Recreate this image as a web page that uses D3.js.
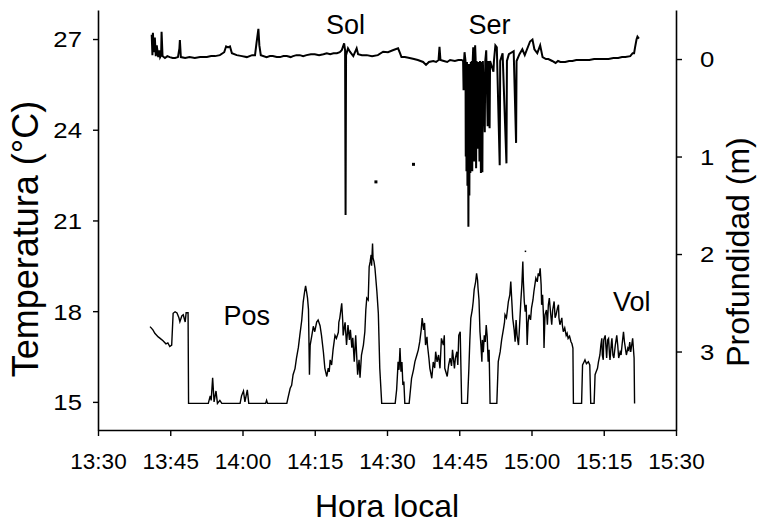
<!DOCTYPE html>
<html>
<head>
<meta charset="utf-8">
<script src="https://cdn.jsdelivr.net/npm/d3@7"></script>
<style>
  html, body { margin: 0; padding: 0; background: #fff; }
  svg { display: block; }
  text { font-family: "Liberation Sans", Arial, sans-serif; fill: #000; }
</style>
</head>
<body>
<svg id="chart" width="766" height="523"></svg>
<script>
// Time is given in minutes after 13:30 (hora local)
const xTickMinutes = [0, 15, 30, 45, 60, 75, 90, 105, 120];
const xTickLabels = ["13:30", "13:45", "14:00", "14:15", "14:30", "14:45", "15:00", "15:15", "15:30"];
const tempTicks = [15, 18, 21, 24, 27];
const depthTicks = [0, 1, 2, 3];

// Water temperature (°C) logged along the dive
const tempMinutes = [
  10.8, 11.4, 11.8, 12.5, 12.9, 13.5, 14.1, 14.5, 14.9, 15.3, 15.6, 16.0, 16.4, 16.8, 17.0, 17.4, 17.7, 18.1, 18.3, 18.7, 18.8,
  22.9, 23.3, 23.5, 23.8, 24.1, 24.5, 24.8, 25.3, 25.7, 29.5, 29.8, 30.2, 30.5, 31.0, 31.3, 34.8, 35.0, 35.2, 39.2,
  39.4, 39.9, 40.2, 40.5, 40.9, 41.2, 41.6, 41.9, 42.3, 42.6, 42.9, 43.1, 43.3, 43.5, 43.7, 43.9, 44.05, 44.4, 44.7,
  45.0, 45.4, 45.7, 46.1, 46.4, 46.8, 47.1, 47.5, 47.8, 48.0, 48.2, 48.5, 48.8, 49.2, 49.5, 49.9, 50.0, 50.2, 50.6,
  50.8, 50.9, 51.2, 51.3, 51.6, 51.9, 52.2, 52.4, 52.7, 52.9, 53.2, 53.5, 53.9, 54.2, 54.4, 54.7, 55.1, 55.4, 55.6,
  55.8, 56.1, 56.3, 56.5, 56.7, 56.8, 57.0, 57.1, 57.3, 57.5, 57.9, 58.2, 58.5, 58.9,
  61.7, 62.0, 62.2, 62.3, 62.5, 62.7, 62.9, 63.1, 63.3, 63.5, 63.7,
  64.6, 65.1, 65.5, 65.8, 66.2, 66.5, 66.8, 67.1, 67.3, 67.6, 67.8, 68.0, 68.3, 68.4, 68.7, 68.9, 69.3, 69.6, 69.9,
  70.1, 70.4, 70.7, 71.0, 71.3, 71.7, 71.9, 72.0, 72.5, 72.8, 73.1, 73.4, 73.6, 74.0, 74.2, 74.5, 74.7, 74.9, 75.2, 75.5,
  76.7, 77.0, 77.2, 77.4, 77.7, 77.9, 78.1, 78.4, 78.6, 78.8, 78.9, 79.1, 79.3, 79.5, 79.7, 79.8, 80.0, 80.2, 80.4,
  80.6, 80.8, 81.0, 81.2, 81.4,
  82.8, 83.1, 83.5, 83.8, 84.2, 84.4, 84.5, 84.8, 85.0, 85.2, 85.5, 85.7, 85.9, 86.1, 86.4, 86.6, 86.8, 87.0, 87.3,
  87.5, 87.6, 87.8, 88.0, 88.2, 88.3, 88.5, 88.7, 88.9, 89.1, 89.3, 89.5, 89.8, 90.0, 90.3, 90.5, 90.7, 90.9, 91.2,
  91.4, 91.6, 91.8, 92.0, 92.1, 92.3, 92.5, 92.6, 92.8, 93.1, 93.3, 93.5, 93.7, 94.0, 94.2, 94.4, 94.7, 94.9, 95.1,
  95.4, 95.6, 95.7, 95.9, 96.3, 96.4, 96.6, 96.9, 97.2, 97.4, 97.6, 97.9, 98.2, 98.4, 98.6, 98.7,
  100.4, 100.6, 100.9, 101.1, 101.4, 101.8, 102.1, 102.3,
  103.0, 103.2, 103.4, 103.7, 103.9, 104.2, 104.4, 104.6, 104.7, 104.9, 105.0, 105.3, 105.5, 105.6, 105.8, 106.0,
  106.2, 106.3, 106.6, 106.7, 106.9, 107.1, 107.4, 107.7, 107.9, 108.1, 108.4, 108.6, 108.8, 109.1, 109.3, 109.4,
  109.6, 109.7, 110.0, 110.2, 110.4, 110.6, 111.0, 111.3, 111.4
];
const tempValues = [
  17.49, 17.38, 17.27, 17.15, 17.10, 17.02, 16.92, 16.95, 16.83, 16.88, 17.93, 17.98, 17.94, 17.78, 17.65, 17.84, 17.88, 17.64, 17.95, 17.95, 14.95,
  14.95, 15.20, 15.05, 15.80, 15.00, 15.36, 14.95, 15.05, 14.95, 14.95, 15.20, 15.36, 15.00, 15.40, 14.95, 14.95, 15.05, 14.95, 14.95,
  15.10, 15.45, 15.55, 15.90, 16.10, 16.44, 16.80, 17.20, 17.70, 18.30, 18.65, 18.84, 18.65, 18.43, 18.05, 15.90, 16.88, 17.20, 17.50,
  17.32, 17.64, 17.71, 17.52, 17.20, 16.64, 16.11, 15.84, 16.12, 15.99, 16.39, 16.22, 16.72, 17.20, 17.10, 17.30, 17.63, 17.77, 18.26,
  17.71, 17.20, 17.54, 17.63, 16.88, 17.54, 17.05, 17.38, 16.79, 17.12, 16.33, 17.20, 15.90, 16.39, 15.80, 16.55, 16.88, 17.32, 18.04,
  18.43, 18.37, 19.47, 19.63, 19.86, 19.50, 20.24, 19.76, 19.64, 19.42, 18.65, 17.93, 16.11, 14.95,
  14.95, 15.40, 15.99, 16.33, 16.06, 16.78, 16.00, 16.32, 15.56, 15.67, 14.95,
  14.95, 15.78, 16.06, 16.33, 16.55, 16.72, 16.99, 17.38, 17.77, 17.38, 17.61, 16.88, 17.15, 16.88, 16.45, 16.11, 15.78, 16.32, 16.12,
  16.66, 16.32, 16.55, 16.11, 17.10, 16.88, 17.20, 16.11, 15.84, 16.22, 16.45, 16.19, 16.72, 16.11, 16.45, 16.66, 16.22, 17.20, 17.32, 14.95,
  14.95, 16.11, 17.05, 17.77, 18.04, 18.32, 18.71, 18.97, 19.25, 19.03, 18.76, 18.37, 17.32, 16.88, 16.33, 17.05, 16.64, 17.20, 16.98,
  17.54, 17.17, 16.33, 16.72, 14.95,
  14.95, 16.33, 16.66, 17.05, 17.43, 17.64, 17.88, 17.78, 18.04, 18.32, 18.54, 18.98, 18.37, 17.77, 17.38, 16.99, 17.71, 17.20, 16.88,
  17.45, 17.77, 18.37, 18.87, 19.64, 19.03, 18.32, 17.98, 18.21, 16.88, 17.64, 17.88, 17.71, 18.10, 18.37, 18.65, 18.87, 19.09, 18.97,
  19.25, 19.16, 19.42, 18.87, 18.21, 18.54, 17.78, 16.78, 17.88, 18.04, 17.55, 18.21, 18.43, 17.88, 17.55, 18.04, 18.32, 17.78, 17.88,
  18.11, 18.21, 17.78, 17.55, 17.78, 17.55, 17.32, 17.45, 17.20, 17.27, 17.10, 17.17, 16.99, 16.92, 16.78, 14.95,
  14.95, 16.22, 16.32, 16.39, 16.26, 16.33, 16.22, 14.95,
  14.95, 15.90, 15.99, 16.11, 16.32, 16.55, 16.88, 17.10, 16.55, 16.39, 17.05, 17.20, 16.72, 16.45, 17.05, 17.10,
  16.55, 16.39, 16.98, 17.10, 16.55, 16.45, 16.88, 17.20, 16.88, 16.45, 16.65, 16.55, 16.88, 17.32, 16.98, 16.88,
  16.65, 16.55, 16.78, 16.72, 16.98, 16.65, 17.10, 16.45, 14.95
];

// Depth (m) of the logger over the same period
const depthMinutes = [
  11.15, 11.3, 11.4, 11.6, 11.8, 12.0, 12.2, 12.5, 12.7, 12.9, 13.1, 13.2, 13.4, 13.9, 14.4, 14.9, 15.5, 16.0, 16.6, 16.9, 17.0, 17.2,
  18.1, 19.0, 20.1, 21.2, 22.6, 23.5, 24.3, 25.3, 26.2, 26.6, 27.0, 27.4, 27.8, 28.8, 29.9, 30.9, 32.0, 32.6, 32.9, 33.3, 33.5, 33.8,
  35.0, 35.7, 36.3, 37.1, 37.8, 38.5, 39.2, 40.0, 40.5, 41.2, 41.9, 42.6, 43.3, 44.2, 45.0, 45.9, 46.8, 47.5, 48.2, 48.9,
  49.6, 50.2, 50.6, 51.1, 51.3, 51.4, 51.5, 51.9, 52.3,
  53.0, 53.7, 54.0, 54.8, 55.8, 56.9, 58.1, 59.2, 60.2, 61.2, 62.3, 62.7, 63.0, 63.7, 64.7, 65.6, 66.4, 67.5, 68.1,
  68.7, 69.6, 70.2, 70.7, 70.9, 71.1, 71.8, 72.5, 73.1, 74.1, 74.8, 75.5, 75.8, 75.9, 76.0, 76.1, 76.3, 76.35, 76.45, 76.5, 76.6,
  76.7, 76.8, 76.9, 77.0, 77.1, 77.2, 77.3, 77.4, 77.5, 77.6, 77.7, 77.8, 77.9, 78.0, 78.1, 78.2, 78.3, 78.4, 78.5,
  78.6, 78.9, 79.0, 79.2, 79.3, 79.5, 79.6, 79.8, 79.9, 80.3, 80.4, 80.6, 80.9, 81.0, 81.3, 81.4, 82.1, 82.2, 82.5,
  82.8, 83.4, 83.5, 84.0, 84.8, 84.9, 85.3, 86.3, 86.8, 86.9, 87.5, 88.1, 88.6, 89.7, 90.2, 90.6, 91.2, 91.8, 92.3,
  93.0, 93.5, 94.3, 95.0, 95.5, 96.0, 97.0, 97.8, 98.5, 99.3, 100.0, 101.0, 102.0, 103.0, 104.0, 105.0, 106.0, 107.0,
  108.0, 108.8, 109.5, 110.5, 111.0, 111.3, 111.5, 111.8, 112.0, 112.3
];
const depthValues = [
  -0.25, -0.04, -0.27, -0.07, -0.22, -0.03, -0.14, -0.02, -0.09, -0.02, -0.04, -0.28, -0.03, -0.01, -0.03, -0.02, -0.01, -0.01, -0.02, -0.11, -0.195, -0.02,
  -0.01, -0.02, -0.01, -0.02, -0.02, -0.03, -0.03, -0.04, -0.07, -0.13, -0.12, -0.13, -0.06, -0.04, -0.03, -0.02, -0.04, -0.04, -0.16, -0.31, -0.14, -0.04,
  -0.02, -0.03, -0.03, -0.02, -0.02, -0.03, -0.03, -0.02, -0.03, -0.04, -0.04, -0.03, -0.04, -0.05, -0.05, -0.04, -0.05, -0.06, -0.05, -0.06,
  -0.06, -0.07, -0.09, -0.16, -0.09, 1.60, -0.04, -0.11, -0.075,
  -0.03, -0.11, -0.05, -0.04, -0.04, -0.03, -0.04, -0.075, -0.07, -0.09, -0.11, -0.06, -0.02, -0.02, -0.01, 0.0, 0.01, 0.03, 0.06,
  0.03, 0.02, 0.03, 0.01, -0.126, 0.01, 0.02, 0.03, 0.01, 0.02, 0.01, 0.01, 0.02, 0.32, 0.02, -0.07, 0.02, 1.00, 0.05, 1.15, 0.03,
  1.30, 0.10, 1.72, 0.05, 1.40, 0.06, 1.17, 0.03, 1.10, 0.02, 1.15, 0.01, -0.12, 0.02, 1.05, 0.01, -0.14, 0.0, 1.12,
  0.02, 0.92, 0.03, 1.05, 0.02, 1.17, 0.03, 1.16, 0.02, 0.75, 0.02, -0.09, 0.69, 0.02, 0.71, 0.02, 0.13, 0.02, -0.14,
  -0.12, 1.09, 0.02, -0.06, 1.07, 0.02, -0.05, -0.08, 0.86, 0.02, -0.05, -0.10, -0.04, -0.18, -0.20, -0.10, -0.06, -0.14, -0.02,
  0.0, 0.0, 0.02, 0.04, 0.02, 0.03, 0.03, 0.02, 0.02, 0.01, 0.01, 0.01, 0.01, 0.0, 0.0, 0.0, 0.0, -0.01,
  -0.01, -0.02, -0.02, -0.03, -0.06, -0.06, -0.12, -0.20, -0.23, -0.21
];

// Isolated depth readings away from the main trace
const dotMinutes = [57.7, 65.5, 88.9];
const dotDepths = [1.26, 1.08, 1.98];

// Phase names of the dive, anchored in data coordinates
const phaseNames = ["Pos", "Sol", "Ser", "Vol"];
const phaseMinutes = [30.9, 51.4, 81.3, 110.8];
const phaseTemps = [17.55, 27.15, 27.15, 18.0];

const svg = d3.select("#chart");
const plotLeft = 98, plotRight = 676, plotTop = 10, plotBottom = 430;

const x = d3.scaleLinear().domain([0, 120]).range([plotLeft, plotRight]);
const yT = d3.scaleLinear().domain([14.07, 27.96]).range([plotBottom, plotTop]);
const yD = d3.scaleLinear().domain([3.805, -0.503]).range([plotBottom, plotTop]);

const tempData = tempMinutes.map((m, i) => [m, tempValues[i]]);
const depthData = depthMinutes.map((m, i) => [m, depthValues[i]]);

// Traces
svg.append("path")
  .datum(tempData)
  .attr("fill", "none")
  .attr("stroke", "#000")
  .attr("stroke-width", 1.4)
  .attr("d", d3.line().x(d => x(d[0])).y(d => yT(d[1])));

svg.append("path")
  .datum(depthData)
  .attr("fill", "none")
  .attr("stroke", "#000")
  .attr("stroke-width", 2)
  .attr("d", d3.line().x(d => x(d[0])).y(d => yD(d[1])));

svg.selectAll("rect.dot")
  .data(dotMinutes.map((m, i) => [m, dotDepths[i]]))
  .enter().append("rect")
  .attr("class", "dot")
  .attr("x", d => x(d[0]) - 1.5)
  .attr("y", d => yD(d[1]) - 1.5)
  .attr("width", (d, i) => i === 2 ? 1.5 : 3)
  .attr("height", (d, i) => i === 2 ? 1.5 : 3)
  .attr("fill", "#000");

// Axes
const axisLeft = d3.axisLeft(yT).tickValues(tempTicks).tickSize(5).tickSizeOuter(0);
const gl = svg.append("g").attr("transform", `translate(${plotLeft},0)`).call(axisLeft);

const axisRight = d3.axisRight(yD).tickValues(depthTicks).tickFormat(d3.format("d"))
  .tickSize(6).tickSizeOuter(0);
const gr = svg.append("g").attr("transform", `translate(${plotRight},0)`).call(axisRight);

const axisBottom = d3.axisBottom(x).tickValues(xTickMinutes)
  .tickFormat((d, i) => xTickLabels[i]).tickSize(6).tickSizeOuter(0).tickPadding(17);
const gb = svg.append("g").attr("transform", `translate(0,${plotBottom})`).call(axisBottom);

[gl, gr, gb].forEach(g => {
  g.select(".domain").attr("stroke", "#000").attr("stroke-width", 1.6);
  g.selectAll(".tick line").attr("stroke", "#000").attr("stroke-width", 1.4);
  g.selectAll(".tick text")
    .style("font-family", '"Liberation Sans", Arial, sans-serif')
    .attr("fill", "#000");
});

// Vertical-axis numbers are set a little wider than the time labels
gl.selectAll(".tick text")
  .style("font-size", "22px")
  .attr("x", 0)
  .attr("dy", "0.36em")
  .attr("transform", "translate(-16,0) scale(1.17,1)");
gr.selectAll(".tick text")
  .style("font-size", "22px")
  .attr("x", 0)
  .attr("dy", "0.36em")
  .attr("transform", "translate(24,0) scale(1.17,1)");
gb.selectAll(".tick text")
  .style("font-size", "22.5px");

// Axis titles
const fontTempTitle = 36, fontDepthTitle = 32;
svg.append("text")
  .attr("transform", `translate(${12 + 0.73 * fontTempTitle},239) rotate(-90)`)
  .attr("text-anchor", "middle")
  .style("font-size", fontTempTitle + "px")
  .text("Temperatura (°C)");

svg.append("text")
  .attr("transform", `translate(${726 + 0.73 * fontDepthTitle},252) rotate(-90)`)
  .attr("text-anchor", "middle")
  .style("font-size", fontDepthTitle + "px")
  .text("Profundidad (m)");

svg.append("text")
  .attr("x", (plotLeft + plotRight) / 2)
  .attr("y", 517)
  .attr("text-anchor", "middle")
  .style("font-size", "32px")
  .text("Hora local");

// Phase labels
svg.selectAll("text.phase")
  .data(phaseNames)
  .enter().append("text")
  .attr("class", "phase")
  .attr("x", (d, i) => x(phaseMinutes[i]))
  .attr("y", (d, i) => yT(phaseTemps[i]))
  .attr("text-anchor", "middle")
  .style("font-size", "27px")
  .text(d => d);
</script>
</body>
</html>
